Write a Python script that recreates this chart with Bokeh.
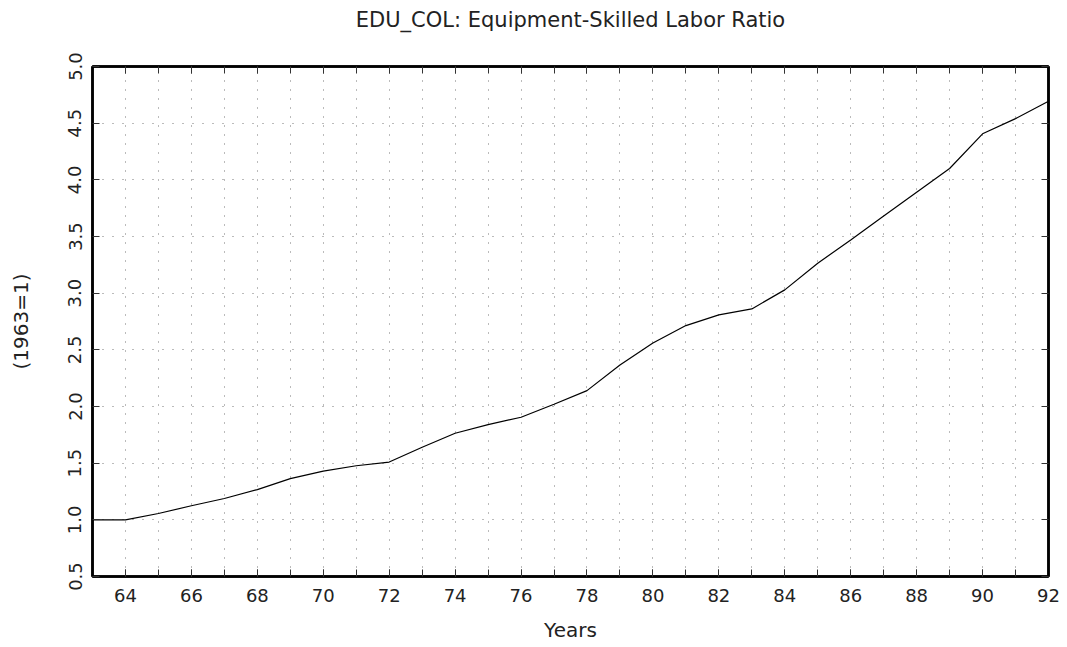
from bokeh.plotting import figure
from bokeh.models import LinearAxis, FixedTicker, Range1d, Title
from bokeh.embed import file_html
from bokeh.resources import INLINE

years = list(range(63, 93))
ratio = [1.00, 1.00, 1.056, 1.124, 1.188, 1.267, 1.364, 1.43, 1.477, 1.51,
         1.64, 1.764, 1.84, 1.905, 2.02, 2.14, 2.367, 2.56, 2.714, 2.809,
         2.861, 3.029, 3.264, 3.47, 3.68, 3.89, 4.10, 4.406, 4.54, 4.694]

x_tick_labels = list(range(64, 93, 2))
y_ticks = [0.5, 1.0, 1.5, 2.0, 2.5, 3.0, 3.5, 4.0, 4.5, 5.0]
y_tick_labels = ["0.5", "1.0", "1.5", "2.0", "2.5", "3.0", "3.5", "4.0", "4.5", "5.0"]

FONT = "DejaVu Sans"
TXT = "#222222"

p = figure(width=1060, height=645, output_backend="svg", toolbar_location=None,
           x_range=Range1d(63, 92), y_range=Range1d(0.5, 5.0),
           min_border_left=92, min_border_right=12, min_border_bottom=69, min_border_top=66,
           title=None)

p.line(years, ratio, line_color="black", line_width=1.2)

xt = FixedTicker(ticks=x_tick_labels, minor_ticks=years)
yt = FixedTicker(ticks=y_ticks, minor_ticks=[])

for ax in p.xaxis:
    ax.ticker = xt
for ax in p.yaxis:
    ax.ticker = yt

def style_axis(ax, labels=True):
    ax.axis_line_width = 2.5
    ax.axis_line_color = "black"
    ax.major_tick_in = 7
    ax.major_tick_out = 0
    ax.minor_tick_in = 7
    ax.minor_tick_out = 0
    ax.major_tick_line_color = "#333333"
    ax.minor_tick_line_color = "#333333"
    ax.major_label_text_font = FONT
    ax.major_label_text_font_size = "18px"
    ax.major_label_text_color = TXT
    ax.axis_label_text_font = FONT
    ax.axis_label_text_font_size = "20px"
    ax.axis_label_text_font_style = "normal"
    ax.axis_label_text_color = TXT
    if not labels:
        ax.major_label_text_font_size = "0px"
        ax.major_label_standoff = 0

style_axis(p.xaxis[0])
style_axis(p.yaxis[0])
p.xaxis[0].axis_label = "Years"
p.xaxis[0].major_label_standoff = 12
p.xaxis[0].axis_label_standoff = 13
p.yaxis[0].axis_label = "(1963=1)"
p.yaxis[0].major_label_overrides = {t: s for t, s in zip(y_ticks, y_tick_labels)}
p.yaxis[0].major_label_orientation = "vertical"
p.yaxis[0].major_label_standoff = 11
p.yaxis[0].axis_label_standoff = 33

top = LinearAxis(ticker=xt)
style_axis(top, labels=False)
top.major_label_overrides = {t: " " for t in x_tick_labels}
top.major_label_text_font_size = "18px"
top.major_label_standoff = 6
p.add_layout(top, "above")

p.add_layout(Title(text="EDU_COL: Equipment-Skilled Labor Ratio", align="center",
                   text_font=FONT, text_font_size="21px", text_font_style="normal",
                   text_color=TXT, standoff=10), "above")

right = LinearAxis(ticker=yt)
style_axis(right, labels=False)
right.major_label_overrides = {t: "" for t in y_ticks}
right.minor_tick_in = 0
p.add_layout(right, "right")

p.outline_line_color = "black"
p.outline_line_width = 2.5

p.xgrid.ticker = FixedTicker(ticks=years)
p.xgrid.grid_line_color = "#777777"
p.xgrid.grid_line_dash = "1 8"
p.ygrid.ticker = yt
p.ygrid.grid_line_color = "#777777"
p.ygrid.grid_line_dash = "1 9"

open("out.html", "w").write(file_html(p, INLINE))
